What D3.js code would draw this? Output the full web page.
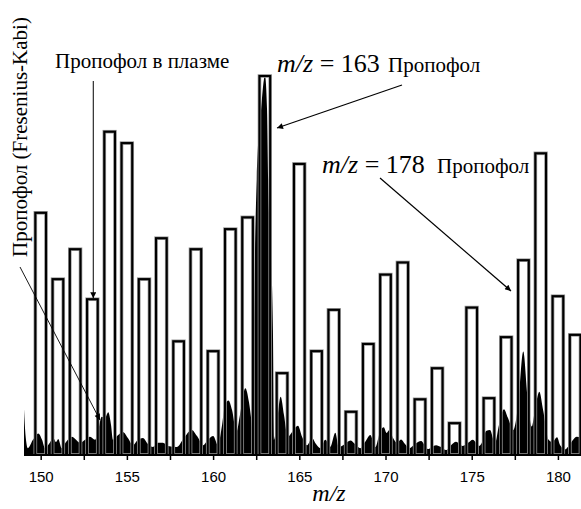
<!DOCTYPE html>
<html>
<head>
<meta charset="utf-8">
<script src="https://cdn.jsdelivr.net/npm/d3@7/dist/d3.min.js"></script>
<style>
  html, body { margin: 0; padding: 0; background: #fff; }
  svg { display: block; }
</style>
</head>
<body>
<svg id="chart" width="581" height="509"></svg>
<script>
// ---------- DATA ----------
// Bar spectrum (reference, Fresenius-Kabi): relative intensity at integer m/z
const barMz = [150,151,152,153,154,155,156,157,158,159,160,161,162,163,164,165,
               166,167,168,169,170,171,172,173,174,175,176,177,178,179,180,181];
const barIntensity = [63.9,46.4,54.3,41.1,85.3,82.3,46.4,57.2,30.0,54.3,27.4,59.6,62.7,100,21.6,76.8,
                      27.4,38.3,11.4,29.3,47.6,50.8,14.7,22.9,8.4,38.9,15.0,31.1,51.4,79.6,41.9,31.7];

// Continuous (profile) spectrum of propofol in plasma
const specMz = [149.03,149.12,149.26,149.55,149.86,150.08,150.25,150.48,150.73,150.89,151.02,151.22,151.47,151.80,
  152.05,152.28,152.57,152.86,153.15,153.32,153.54,153.73,153.92,154.08,154.19,154.43,154.77,155.06,155.35,155.64,
  155.93,156.22,156.51,156.80,157.09,157.38,157.89,158.31,158.76,159.07,159.43,159.70,160.01,160.28,160.52,160.69,
  160.89,161.10,161.35,161.56,161.87,162.08,162.23,162.31,162.37,162.53,162.78,163.01,163.13,163.20,163.47,163.53,
  163.65,163.92,164.11,164.34,164.58,164.92,165.16,165.45,165.74,165.97,166.22,166.51,166.80,167.09,167.29,167.65,
  167.96,168.23,168.54,168.81,169.12,169.41,169.68,169.90,170.06,170.22,170.44,170.67,170.90,171.13,171.38,171.71,
  172.06,172.45,172.93,173.22,173.51,173.80,174.09,174.48,174.79,175.06,175.44,175.66,175.83,176.06,176.35,176.58,
  176.87,177.10,177.41,177.69,177.99,178.23,178.48,178.67,178.92,179.14,179.46,179.68,179.95,180.13,180.42,180.70,
  181.09,181.34];
const specIntensity = [12.4,5.3,1.8,4.0,5.7,4.0,1.8,2.9,4.5,3.4,4.2,1.8,3.4,4.8,
  4.0,3.2,4.0,4.8,4.0,6.1,10.1,9.8,11.3,7.9,4.0,5.0,6.1,4.5,2.6,4.0,
  4.5,2.9,2.1,3.2,3.2,2.4,2.1,4.5,6.6,5.0,2.6,4.0,5.0,2.6,7.9,13.2,
  14.4,11.9,6.1,10.6,17.6,14.0,8.7,5.0,33.0,72.6,91.0,100,91.0,72.6,33.0,4.0,
  6.6,15.4,10.6,4.8,6.1,7.7,4.8,2.6,4.5,2.9,1.8,4.0,2.2,5.9,2.1,2.9,
  3.8,2.9,1.8,3.4,5.3,2.1,6.1,7.3,5.8,6.6,4.5,3.2,4.1,2.9,1.8,2.9,
  3.7,1.6,2.6,2.1,1.3,2.6,3.5,2.4,3.2,4.0,2.4,4.0,6.3,6.6,3.1,7.9,
  12.1,9.8,6.6,13.2,27.3,15.8,7.5,11.9,16.7,11.9,4.0,3.4,4.7,2.6,1.5,2.9,
  4.8,4.5];

const majorTicks = [150,155,160,165,170,175,180];
const allTicks = [150,152.5,155,157.5,160,162.5,165,167.5,170,172.5,175,177.5,180];
const xTitle = "m/z";
const labelPlasma = "Пропофол в плазме";
const labelRef = "Пропофол (Fresenius-Kabi)";
const label163 = {italic: "m/z", rest: " = 163", name: "Пропофол"};
const label178 = {italic: "m/z", rest: " = 178", name: "Пропофол"};

// ---------- LAYOUT ----------
const svg = d3.select("#chart");
const x = d3.scaleLinear().domain([149.05, 181.35]).range([24.3, 581.2]);
const y = d3.scaleLinear().domain([0, 100]).range([455, 76]);
const barHalf = 0.31;

svg.append("defs").append("clipPath").attr("id", "plotclip")
  .append("rect").attr("x", 24).attr("y", 0).attr("width", 557).attr("height", 456);

const defs = svg.select("defs");
defs.append("marker").attr("id", "arrow")
  .attr("viewBox", "0 0 10 10").attr("refX", 10).attr("refY", 5)
  .attr("markerWidth", 10).attr("markerHeight", 6).attr("markerUnits", "userSpaceOnUse")
  .attr("orient", "auto")
  .append("path").attr("d", "M0,0 L10,5 L0,10 Z").attr("fill", "#000");

const plot = svg.append("g").attr("clip-path", "url(#plotclip)");

// Profile spectrum (black filled)
const spec = specMz.map((m, i) => ({m, v: specIntensity[i]}));
plot.append("path")
  .datum(spec)
  .attr("fill", "#000")
  .attr("d", d3.area().x(d => x(d.m)).y0(y(0)).y1(d => y(d.v)).curve(d3.curveMonotoneX));

// Bars (unfilled outlines)
const bars = barMz.map((m, i) => ({m, v: barIntensity[i]}));
["#9a9a9a", "#000"].forEach((c, k) => {
  plot.selectAll(null).data(bars).enter().append("rect")
    .attr("x", d => x(d.m - barHalf))
    .attr("width", d => x(d.m + barHalf) - x(d.m - barHalf))
    .attr("y", d => y(d.v))
    .attr("height", d => y(0) - y(d.v))
    .attr("fill", "none")
    .attr("stroke", c)
    .attr("stroke-width", k === 0 ? 3.6 : 2.1);
});

// X axis
const axis = d3.axisBottom(x)
  .tickValues(allTicks)
  .tickSize(5)
  .tickPadding(11)
  .tickFormat(d => majorTicks.includes(d) ? d3.format("d")(d) : "");
const gx = svg.append("g").attr("transform", `translate(0,${y(0)})`).call(axis);
gx.select(".domain").remove();
gx.selectAll(".tick line").attr("stroke", "#000").attr("stroke-width", 1.5);
gx.selectAll("text").attr("font-family", "'Liberation Sans', Arial, sans-serif")
  .attr("font-size", 15).attr("fill", "#000");
gx.append("line").attr("x1", 24).attr("x2", 581).attr("y1", 0).attr("y2", 0)
  .attr("stroke", "#000").attr("stroke-width", 2);

svg.append("text")
  .attr("x", 329).attr("y", 501)
  .attr("text-anchor", "middle")
  .attr("font-family", "'Liberation Serif', 'Times New Roman', serif")
  .attr("font-style", "italic").attr("font-size", 24)
  .text(xTitle);

// ---------- ANNOTATIONS ----------
const serif = "'Liberation Serif', 'Times New Roman', serif";

// Propofol in plasma
svg.append("text").attr("x", 55).attr("y", 68)
  .attr("font-family", serif).attr("font-size", 21).text(labelPlasma);
svg.append("line")
  .attr("x1", x(153.05)).attr("y1", 81).attr("x2", x(153.05)).attr("y2", y(barIntensity[3]) - 1)
  .attr("stroke", "#000").attr("stroke-width", 1).attr("marker-end", "url(#arrow)");

// Vertical label
svg.append("text")
  .attr("transform", "translate(27,137) rotate(-90)")
  .attr("text-anchor", "middle")
  .attr("font-family", serif).attr("font-size", 21).text(labelRef);
svg.append("line")
  .attr("x1", 20).attr("y1", 267).attr("x2", 100).attr("y2", 420)
  .attr("stroke", "#000").attr("stroke-width", 0.9).attr("marker-end", "url(#arrow)");

// m/z = 163
const t163 = svg.append("text").attr("x", 277).attr("y", 72)
  .attr("font-family", serif).attr("font-size", 26);
t163.append("tspan").attr("font-style", "italic").text(label163.italic);
t163.append("tspan").text(label163.rest);
svg.append("text").attr("x", 388).attr("y", 72)
  .attr("font-family", serif).attr("font-size", 21).text(label163.name);
svg.append("line")
  .attr("x1", 402).attr("y1", 85).attr("x2", 277).attr("y2", 128)
  .attr("stroke", "#000").attr("stroke-width", 1.2).attr("marker-end", "url(#arrow)");

// m/z = 178
const t178 = svg.append("text").attr("x", 322).attr("y", 173)
  .attr("font-family", serif).attr("font-size", 26);
t178.append("tspan").attr("font-style", "italic").text(label178.italic);
t178.append("tspan").text(label178.rest);
svg.append("text").attr("x", 437).attr("y", 173)
  .attr("font-family", serif).attr("font-size", 21).text(label178.name);
svg.append("line")
  .attr("x1", 380).attr("y1", 178).attr("x2", 511).attr("y2", 291)
  .attr("stroke", "#000").attr("stroke-width", 1.2).attr("marker-end", "url(#arrow)");
</script>
</body>
</html>
